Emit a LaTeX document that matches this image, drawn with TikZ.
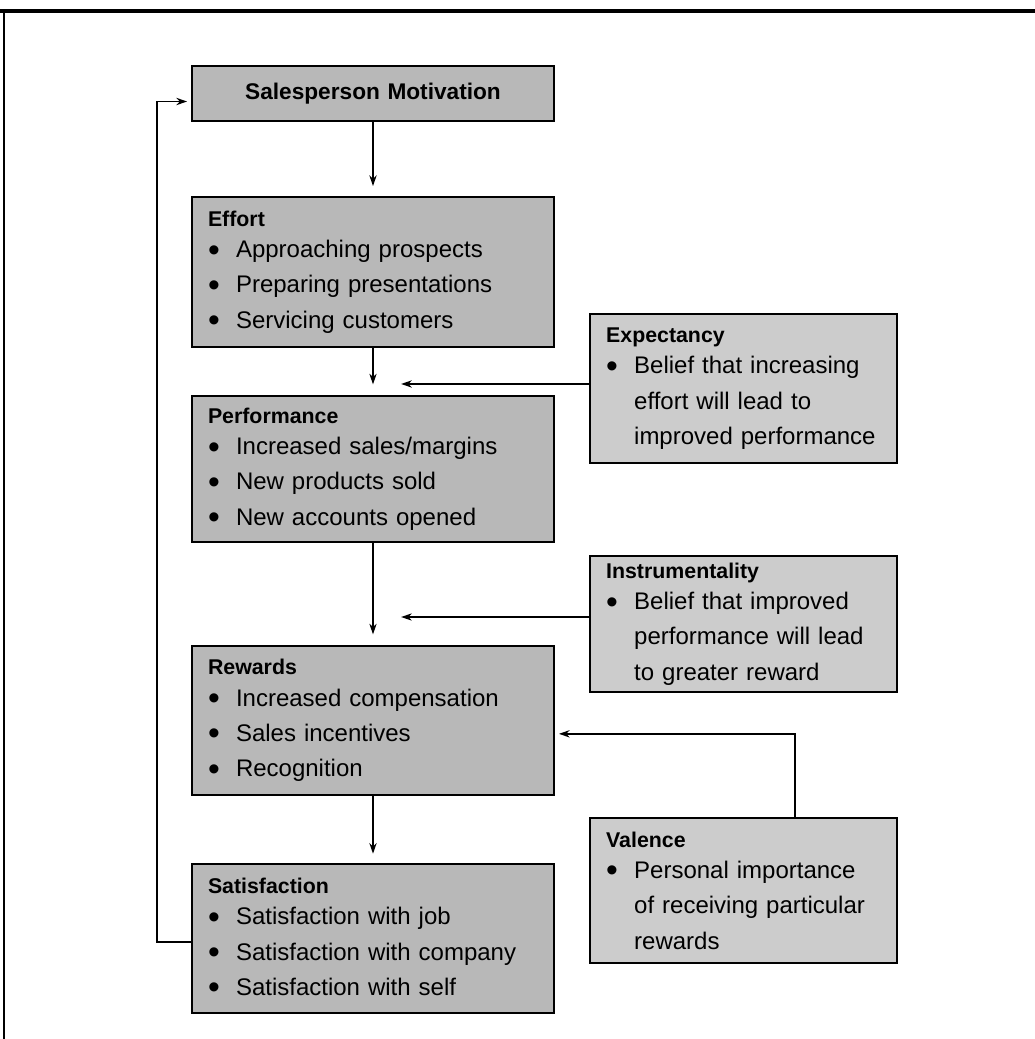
\documentclass[tikz,border=0pt]{standalone}
\usepackage{fontspec}
\setmainfont{Liberation Sans}
\usetikzlibrary{arrows.meta}
\newcommand\bul{\makebox[21pt][l]{\raisebox{-2.6pt}{\scalebox{1.4}{\textbullet}}}}
\newcommand\ind{\hspace*{21pt}}
\newcommand\ttl[1]{{\fontsize{16}{27}\selectfont\bfseries #1}}
\begin{document}
\begin{tikzpicture}[x=0.75pt,y=-0.75pt,
  box/.style={draw=black, line width=1.5pt, fill=black!28, rectangle, align=left,
    inner xsep=12pt, inner ysep=0pt, font=\fontsize{18}{26.5}\selectfont},
  mainbox/.style={box, text width=247.5pt, minimum width=271.5pt},
  sidebox/.style={box, fill=black!20, text width=206pt, minimum width=230pt},
  arr/.style={line width=1pt, -{Stealth[length=8pt,width=5.5pt]}}]
\useasboundingbox (0,0) rectangle (1035,1039);
\draw[line width=2.5pt] (0,11) -- (1035,11);
\draw[line width=1.2pt] (4,11) -- (4,1039);

\node[mainbox, minimum height=41.25pt, align=center, font=\fontsize{17}{20}\selectfont\bfseries] (motiv) at (373,93.5) {Salesperson Motivation};

\node[mainbox, minimum height=112.5pt] (effort) at (373,272)
  {\ttl{Effort}\\[-3pt] \bul Approaching prospects\\ \bul Preparing presentations\\ \bul Servicing customers};

\node[mainbox, minimum height=109.5pt] (perf) at (373,469)
  {\ttl{Performance}\\[-3pt] \bul Increased sales/margins\\ \bul New products sold\\ \bul New accounts opened};

\node[mainbox, minimum height=111.75pt] (rew) at (373,720.5)
  {\ttl{Rewards}\\[-3pt] \bul Increased compensation\\ \bul Sales incentives\\ \bul Recognition};

\node[mainbox, minimum height=111.75pt] (sat) at (373,938.5)
  {\ttl{Satisfaction}\\[-3pt] \bul Satisfaction with job\\ \bul Satisfaction with company\\ \bul Satisfaction with self};

\node[sidebox, minimum height=111.75pt] (expect) at (743.5,388.5)
  {\ttl{Expectancy}\\[-3pt] \bul Belief that increasing\\ \ind effort will lead to\\ \ind improved performance};

\node[sidebox, minimum height=102pt] (instr) at (743.5,624)
  {\ttl{Instrumentality}\\[-3pt] \bul Belief that improved\\ \ind performance will lead\\ \ind to greater reward};

\node[sidebox, minimum height=108.75pt] (val) at (743.5,890.5)
  {\ttl{Valence}\\[-3pt] \bul Personal importance\\ \ind of receiving particular\\ \ind rewards};

\draw[arr, shorten >=7.5pt] (motiv) -- (effort);
\draw[arr, shorten >=8pt] (effort) -- (perf);
\draw[arr, shorten >=8pt] (perf) -- (rew);
\draw[arr, shorten >=7pt] (rew) -- (sat);

\draw[arr] ([yshift=3.4pt]expect.west) -- ++(-188,0);
\draw[arr] ([yshift=5.25pt]instr.west) -- ++(-188,0);
\draw[arr, shorten >=3pt] ([xshift=38.6pt]val.north) |- ([yshift=-10pt]rew.east);
\draw[arr, shorten >=3pt] ([yshift=-2.6pt]sat.west) -- ++(-34,0) |- ([yshift=-6pt]motiv.west);
\end{tikzpicture}
\end{document}
